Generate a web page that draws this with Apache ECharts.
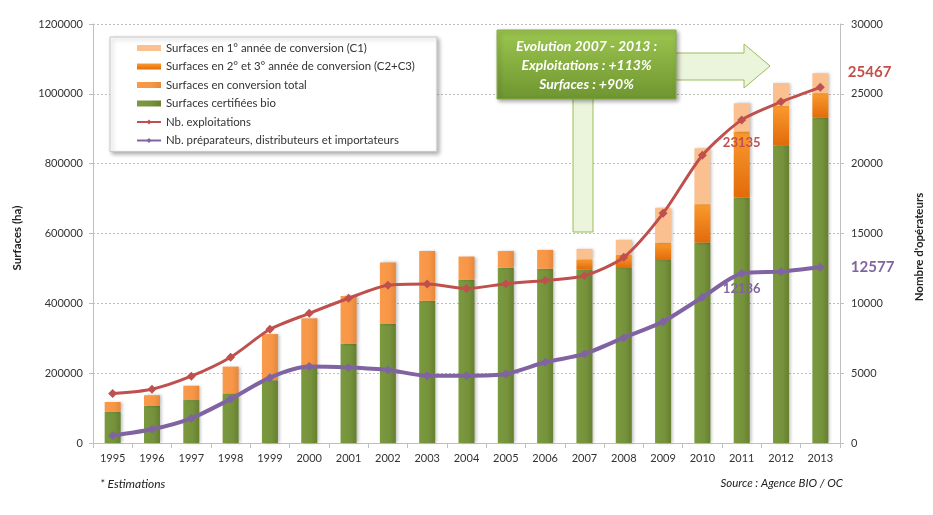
<!DOCTYPE html>
<html>
<head>
<meta charset="utf-8">
<script src="https://cdn.jsdelivr.net/npm/echarts@6/dist/echarts.min.js"></script>
<style>
html,body{margin:0;padding:0;background:#fff;}
#chart{width:933px;height:515px;}
</style>
</head>
<body>
<div id="chart"></div>
<script>
var years = ['1995','1996','1997','1998','1999','2000','2001','2002','2003','2004','2005','2006','2007','2008','2009','2010','2011','2012','2013'];
var surfBio = [89000,107000,123000,142000,180000,220000,284000,341000,407000,467000,502000,499000,497000,501000,524000,574000,703000,853000,932000];
var surfConvTotal = [28500,29700,41000,76700,132000,137000,137000,176000,143000,67000,48000,54000,null,null,null,null,null,null,null];
var surfC2C3 = [null,null,null,null,null,null,null,null,null,null,null,null,29000,38000,50000,110000,189000,112000,70000];
var surfC1 = [null,null,null,null,null,null,null,null,null,null,null,null,30000,43000,100000,160000,81000,66000,57000];
var nbExploitations = [3538,3854,4784,6139,8140,9283,10364,11288,11377,11059,11402,11640,11978,13298,16446,20604,23135,24425,25467];
var nbPreparateurs = [530,980,1770,3150,4680,5470,5400,5230,4820,4820,4940,5780,6375,7540,8690,10435,12136,12270,12577];
var leftTicks = [0,200000,400000,600000,800000,1000000,1200000];
var rightTicks = [0,5000,10000,15000,20000,25000,30000];

var FONT = 'Lato';
var RED = '#c0504d', PURPLE = '#8064a2';

function lineData(arr, labels) {
  return arr.map(function (v, i) {
    if (labels[i]) return { value: v, label: labels[i] };
    return v;
  });
}

var redLabels = {};
redLabels[16] = { show: true, position: 'bottom', distance: 12, color: RED, fontWeight: 'bold', fontSize: 13, fontFamily: FONT };
redLabels[18] = { show: true, position: 'right', distance: 23, offset: [0, -15], color: RED, fontWeight: 'bold', fontSize: 15, fontFamily: FONT };
var purpleLabels = {};
purpleLabels[16] = { show: true, position: 'bottom', distance: 4, color: PURPLE, fontWeight: 'bold', fontSize: 13, fontFamily: FONT };
purpleLabels[18] = { show: true, position: 'right', distance: 26, color: PURPLE, fontWeight: 'bold', fontSize: 15, fontFamily: FONT };

var chart = echarts.init(document.getElementById('chart'));

var barShadow = { shadowColor: 'rgba(0,0,0,0.25)', shadowBlur: 3, shadowOffsetX: 2, shadowOffsetY: 0 };

function ext(o, b) { var r = {}; for (var k in b) r[k] = b[k]; for (var k2 in o) r[k2] = o[k2]; return r; }
function plain(v) { return String(v); }

var option = {
  animation: false,
  textStyle: { fontFamily: FONT },
  grid: { left: 93, right: 93, top: 24, bottom: 72 },
  legend: {
    orient: 'vertical',
    left: 110, top: 37,
    padding: [5, 22, 5, 26],
    backgroundColor: '#fff',
    borderColor: '#c8c8c8', borderWidth: 1,
    shadowColor: 'rgba(0,0,0,0.3)', shadowBlur: 4, shadowOffsetX: 2, shadowOffsetY: 2,
    itemWidth: 24, itemHeight: 6, itemGap: 6.5,
    textStyle: { fontFamily: FONT, fontSize: 11.4, color: '#333', lineHeight: 12 },
    data: [
      { name: 'Surfaces en 1° année de conversion (C1)', icon: 'rect' },
      { name: 'Surfaces en 2° et 3° année de conversion (C2+C3)', icon: 'rect' },
      { name: 'Surfaces en conversion total', icon: 'rect' },
      { name: 'Surfaces certifiées bio', icon: 'rect' },
      { name: 'Nb. exploitations' },
      { name: 'Nb. préparateurs, distributeurs et importateurs' }
    ]
  },
  xAxis: {
    type: 'category', data: years,
    axisLine: { lineStyle: { color: '#bfbfbf' } },
    axisTick: { show: true, length: 5, lineStyle: { color: '#bfbfbf' } },
    axisLabel: { color: '#333', fontSize: 11, fontFamily: FONT, margin: 10 }
  },
  yAxis: [
    {
      type: 'value', min: leftTicks[0], max: leftTicks[leftTicks.length - 1], interval: leftTicks[1] - leftTicks[0],
      name: 'Surfaces (ha)', nameLocation: 'middle', nameGap: 70, nameRotate: 90,
      nameTextStyle: { fontWeight: 'bold', fontSize: 11.5, color: '#222', fontFamily: FONT, padding: [0, 9, 0, 0] },
      axisLine: { show: true, lineStyle: { color: '#bfbfbf' } },
      axisTick: { show: true, length: 4, lineStyle: { color: '#bfbfbf' } },
      axisLabel: { color: '#333', fontSize: 11, fontFamily: FONT, margin: 10, formatter: plain },
      splitLine: { lineStyle: { color: '#bcbcbc', type: [2, 2] } }
    },
    {
      type: 'value', min: rightTicks[0], max: rightTicks[rightTicks.length - 1], interval: rightTicks[1] - rightTicks[0],
      name: "Nombre d'opérateurs", nameLocation: 'middle', nameGap: 73, nameRotate: 90,
      nameTextStyle: { fontWeight: 'bold', fontSize: 11.5, color: '#222', fontFamily: FONT, padding: [0, 27, 0, 0] },
      axisLine: { show: true, lineStyle: { color: '#bfbfbf' } },
      axisTick: { show: true, length: 4, lineStyle: { color: '#bfbfbf' } },
      axisLabel: { color: '#333', fontSize: 11, fontFamily: FONT, margin: 11, formatter: plain },
      splitLine: { show: false }
    }
  ],
  series: [
    {
      name: 'Surfaces certifiées bio', type: 'bar', stack: 's', barWidth: 16,
      data: surfBio,
      itemStyle: ext({ color: new echarts.graphic.LinearGradient(0, 0, 1, 0, [{ offset: 0, color: '#7a9a3e' }, { offset: 0.6, color: '#76923c' }, { offset: 1, color: '#66802f' }]) }, barShadow)
    },
    {
      name: 'Surfaces en conversion total', type: 'bar', stack: 's', barWidth: 16,
      data: surfConvTotal,
      itemStyle: ext({ color: new echarts.graphic.LinearGradient(0, 0, 1, 0, [{ offset: 0, color: '#f99a4c' }, { offset: 0.6, color: '#f79646' }, { offset: 1, color: '#e5883c' }]) }, barShadow)
    },
    {
      name: 'Surfaces en 2° et 3° année de conversion (C2+C3)', type: 'bar', stack: 's', barWidth: 16,
      data: surfC2C3,
      itemStyle: ext({ color: new echarts.graphic.LinearGradient(0, 0, 0, 1, [{ offset: 0, color: '#fa9a2e' }, { offset: 1, color: '#e26b0a' }]) }, barShadow)
    },
    {
      name: 'Surfaces en 1° année de conversion (C1)', type: 'bar', stack: 's', barWidth: 16,
      data: surfC1,
      itemStyle: ext({ color: '#fac090' }, barShadow)
    },
    {
      name: 'Nb. exploitations', type: 'line', yAxisIndex: 1, smooth: 0.25,
      data: lineData(nbExploitations, redLabels),
      symbol: 'diamond', symbolSize: 9,
      lineStyle: { color: RED, width: 3 },
      itemStyle: { color: RED },
      z: 5
    },
    {
      name: 'Nb. préparateurs, distributeurs et importateurs', type: 'line', yAxisIndex: 1, smooth: 0.25,
      data: lineData(nbPreparateurs, purpleLabels),
      symbol: 'diamond', symbolSize: 9,
      lineStyle: { color: PURPLE, width: 4 },
      itemStyle: { color: PURPLE },
      z: 5
    }
  ],
  graphic: [
    { type: 'rect', shape: { x: 573, y: 95, width: 20, height: 137 }, style: { fill: '#ebf5dc', stroke: '#9bbb59', lineWidth: 1 }, z: 10 },
    { type: 'polygon', shape: { points: [[672, 53], [744, 53], [744, 44], [770, 66], [744, 88], [744, 80], [672, 80]] }, style: { fill: '#ebf5dc', stroke: '#9bbb59', lineWidth: 1 }, z: 10 },
    { type: 'rect', shape: { x: 497, y: 30, width: 179, height: 69 },
      style: { fill: new echarts.graphic.LinearGradient(0, 0, 0, 1, [{ offset: 0, color: '#9cc64f' }, { offset: 1, color: '#6e9530' }]), stroke: '#8aab4a', lineWidth: 1, shadowColor: 'rgba(0,0,0,0.35)', shadowBlur: 4, shadowOffsetX: 2, shadowOffsetY: 2 }, z: 11 },
    { type: 'text', x: 586.5, y: 46, style: { text: 'Evolution 2007 - 2013 :', fill: '#fff', font: 'italic bold 14px Lato', textAlign: 'center', textVerticalAlign: 'middle' }, z: 12 },
    { type: 'text', x: 586.5, y: 65, style: { text: 'Exploitations : +113%', fill: '#fff', font: 'italic bold 14px Lato', textAlign: 'center', textVerticalAlign: 'middle' }, z: 12 },
    { type: 'text', x: 586.5, y: 84, style: { text: 'Surfaces : +90%', fill: '#fff', font: 'italic bold 14px Lato', textAlign: 'center', textVerticalAlign: 'middle' }, z: 12 },
    { type: 'text', left: 100, top: 478, style: { text: '* Estimations', fill: '#222', font: 'italic 12px Lato' } },
    { type: 'text', right: 90, top: 477, style: { text: 'Source : Agence BIO / OC', fill: '#222', font: 'italic 11.5px Lato' } }
  ]
};
chart.setOption(option);
</script>
</body>
</html>
